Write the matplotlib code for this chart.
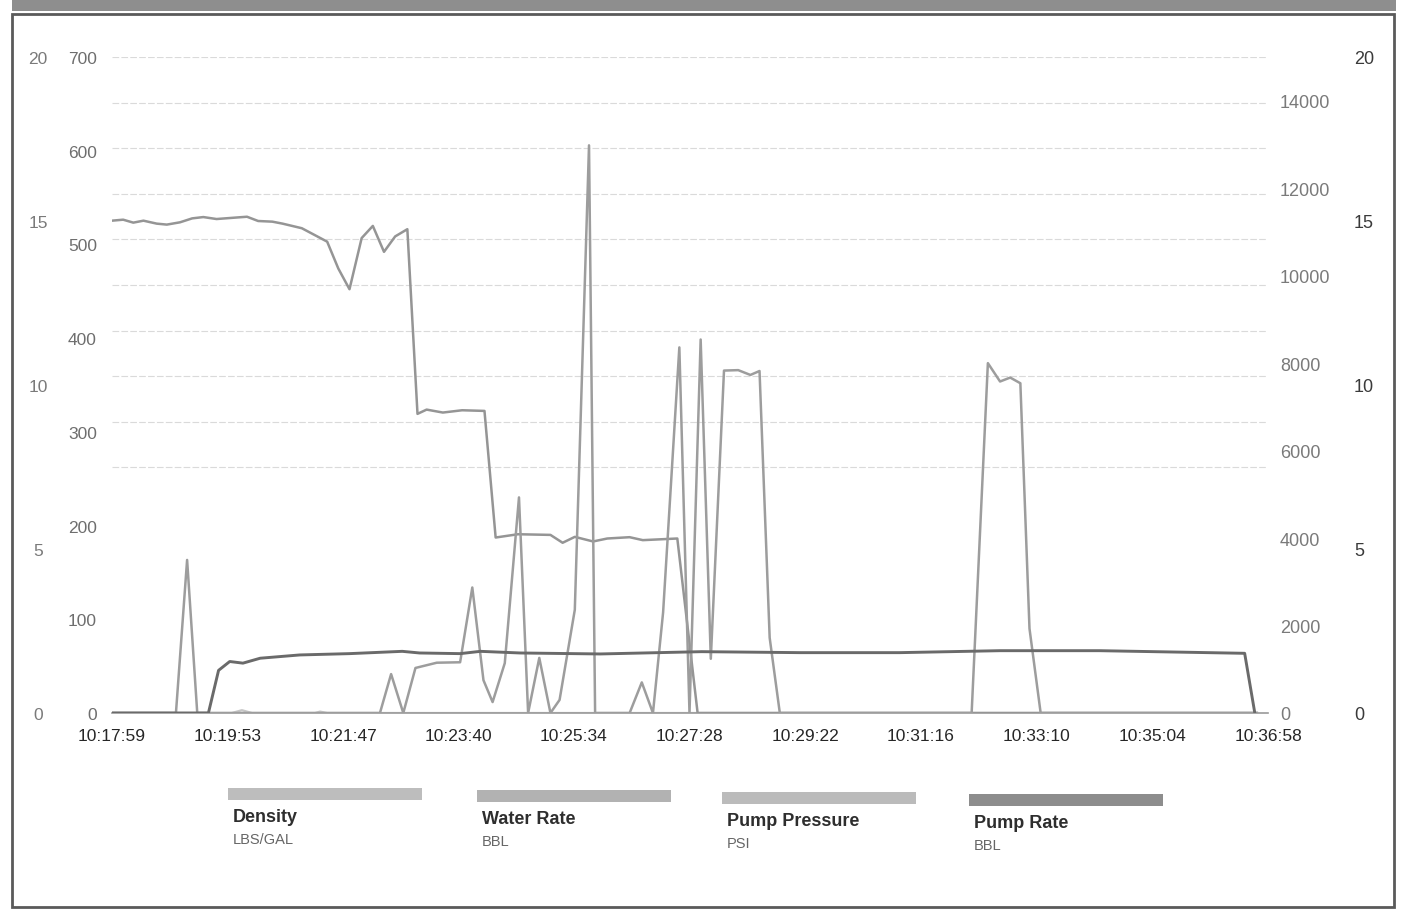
import matplotlib
matplotlib.use("Agg")
import matplotlib.pyplot as plt
from matplotlib.patches import Rectangle

# ---------------- data ----------------
time_labels = ["10:17:59", "10:19:53", "10:21:47", "10:23:40", "10:25:34", "10:27:28",
               "10:29:22", "10:31:16", "10:33:10", "10:35:04", "10:36:58"]

# seconds after 10:17:59
density_t = [0, 11, 21, 31, 44, 54, 67, 79, 90, 103,
             120, 133, 144, 158, 168, 187, 198, 212, 223, 234,
             246, 257, 268, 279, 291, 301, 310, 326, 345, 367,
             378, 400, 432, 444, 456, 474, 488, 510, 523, 557,
             577, 1128]
density_v = [15.01, 15.04, 14.95, 15.01, 14.92, 14.89, 14.96, 15.08, 15.12, 15.06,
             15.10, 15.13, 15.00, 14.98, 14.92, 14.78, 14.60, 14.37, 13.55, 12.92,
             14.48, 14.85, 14.06, 14.53, 14.75, 9.12, 9.25, 9.16, 9.23, 9.21,
             5.35, 5.45, 5.43, 5.19, 5.37, 5.23, 5.32, 5.36, 5.27, 5.32,
             0, 0]

water_t = [0, 84, 118, 128, 138, 200, 205, 212, 1128]
water_v = [0, 0, 0, 3, 0, 0, 1.5, 0, 0]

pressure_t = [0, 63, 74, 84, 264, 275, 287, 299, 320, 343,
              355, 366, 375, 387, 401, 410, 421, 432, 441, 456,
              470, 476, 510, 522, 533, 543, 559, 569, 580, 590,
              603, 617, 629, 638, 648, 658, 847, 863, 875, 885,
              895, 904, 915, 1128]
pressure_v = [0, 0, 3500, 0, 0, 890, 0, 1030, 1150, 1160,
              2870, 750, 250, 1140, 4930, 0, 1260, 0, 300, 2360,
              12980, 0, 0, 700, 0, 2300, 8360, 0, 8540, 1240,
              7830, 7840, 7730, 7820, 1720, 0, 0, 8000, 7580, 7670,
              7540, 1930, 0, 0]

rate_t = [0, 95, 105, 116, 129, 146, 185, 234, 286, 303, 343, 363, 402,
          481, 581, 678, 776, 875, 973, 1116, 1126]
rate_v = [0, 0, 1.30, 1.57, 1.52, 1.67, 1.77, 1.81, 1.88, 1.83, 1.81, 1.88, 1.83,
          1.80, 1.87, 1.84, 1.84, 1.90, 1.90, 1.82, 0]

left_outer_ticks = [0, 5, 10, 15, 20]
left_inner_ticks = [0, 100, 200, 300, 400, 500, 600, 700]
right_inner_ticks = [0, 2000, 4000, 6000, 8000, 10000, 12000, 14000]
right_outer_ticks = [0, 5, 10, 15, 20]

legend_names = ["Density", "Water Rate", "Pump Pressure", "Pump Rate"]
legend_units = ["LBS/GAL", "BBL", "PSI", "BBL"]

# ---------------- layout helpers ----------------
W, H = 1406, 912
DPI = 100
PX = 72.0 / DPI  # points per pixel


def fx(x):
    return x / W


def fy(y):
    return 1 - y / H


def to_sec(s):
    h, m, sec = map(int, s.split(":"))
    return h * 3600 + m * 60 + sec


t0 = to_sec(time_labels[0])
tick_pos = [to_sec(s) - t0 for s in time_labels]

FONT = ["Liberation Sans", "DejaVu Sans"]
plt.rcParams["font.family"] = FONT

fig = plt.figure(figsize=(W / DPI, H / DPI), dpi=DPI)
fig.patch.set_facecolor("white")

# frame: grey band on top and thin border
fig.patches.append(Rectangle((fx(12), fy(12)), fx(1396) - fx(12), fy(0) - fy(12),
                             transform=fig.transFigure, facecolor="#8e8e8e",
                             edgecolor="none", zorder=0))
fig.patches.append(Rectangle((fx(12), fy(908)), fx(1394) - fx(12), fy(15) - fy(908),
                             transform=fig.transFigure, facecolor="none",
                             edgecolor="#5a5a5a", linewidth=2.0, zorder=0))

# plot area
left_px, right_px, top_px, bot_px = 112, 1268, 58, 714
rect = [fx(left_px), fy(bot_px), fx(right_px) - fx(left_px), fy(top_px) - fy(bot_px)]

ax = fig.add_axes(rect)          # left inner 0-700 (Water Rate)
ax_lo = ax.twinx()               # left outer 0-20 (Density)
ax_ri = ax.twinx()               # right inner 0-15000 (Pump Pressure)
ax_ro = ax.twinx()               # right outer 0-20 (Pump Rate)

for a in (ax, ax_lo, ax_ri, ax_ro):
    for s in a.spines.values():
        s.set_visible(False)
    a.set_xlim(0, tick_pos[-1])

ax.set_ylim(0, 700)
ax_lo.set_ylim(0, 20)
ax_ri.set_ylim(0, 15000)
ax_ro.set_ylim(0, 20)

# gridlines (evenly spaced, scan shows them only in upper part)
for k in range(10):
    ax.axhline(700 * (1 - k * 0.0695), color="#dadada", lw=0.8,
               ls=(0, (6, 2)), zorder=0)

# baseline
ax.spines["bottom"].set_visible(True)
ax.spines["bottom"].set_color("#9a9a9a")
ax.spines["bottom"].set_linewidth(1.2)

# x axis
ax.set_xticks(tick_pos)
ax.set_xticklabels(time_labels)
ax.tick_params(axis="x", length=0, pad=11, labelsize=12.5, labelcolor="#262626")

# left inner
ax.yaxis.tick_left()
ax.set_yticks(left_inner_ticks)
ax.tick_params(axis="y", length=0, pad=15 * PX, labelsize=12.5, labelcolor="#6e6e6e")

# left outer
ax_lo.yaxis.tick_left()
ax_lo.set_yticks(left_outer_ticks)
ax_lo.tick_params(axis="y", length=0, pad=74 * PX, labelsize=12.5, labelcolor="#7a7a7a",
                  left=False, right=False, labelleft=True, labelright=False)
for lab in ax_lo.get_yticklabels():
    lab.set_horizontalalignment("center")

# right inner
ax_ri.set_yticks(right_inner_ticks)
ax_ri.tick_params(axis="y", length=0, pad=12 * PX, labelsize=13, labelcolor="#7a7a7a")

# right outer
ax_ro.set_yticks(right_outer_ticks)
ax_ro.tick_params(axis="y", length=0, pad=86 * PX, labelsize=13, labelcolor="#3a3a3a")

# series
col_density = "#959595"
col_water = "#c6c6c6"
col_pressure = "#9d9d9d"
col_rate = "#6a6a6a"

ax.plot(water_t, water_v, color=col_water, lw=1.6, zorder=2)
ax_lo.plot(density_t, density_v, color=col_density, lw=1.8, zorder=3)
ax_ri.plot(pressure_t, pressure_v, color=col_pressure, lw=1.8, zorder=3)
ax_ro.plot(rate_t, rate_v, color=col_rate, lw=2.1, zorder=4)

# legend (manual, below plot)
sw_cols = ["#bdbdbd", "#b2b2b2", "#bbbbbb", "#8d8d8d"]
sw_x = [228, 477, 722, 969]
sw_w = 194
for i, (name, unit) in enumerate(zip(legend_names, legend_units)):
    dy = i * 2
    x0 = sw_x[i]
    fig.patches.append(Rectangle((fx(x0), fy(801 + dy)), fx(x0 + sw_w) - fx(x0),
                                 fy(789 + dy) - fy(801 + dy),
                                 transform=fig.transFigure, facecolor=sw_cols[i],
                                 edgecolor="none"))
    fig.text(fx(x0 + 5), fy(818 + dy), name, fontweight="bold",
             fontsize=13, color="#2e2e2e", ha="left", va="center")
    fig.text(fx(x0 + 5), fy(840 + dy), unit, fontsize=10.5,
             color="#666666", ha="left", va="center")

fig.savefig("out.png", dpi=DPI, facecolor="white")
